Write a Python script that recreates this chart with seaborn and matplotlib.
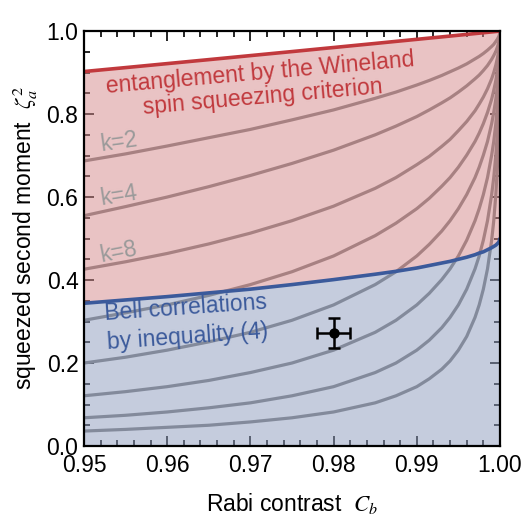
import numpy as np
import pandas as pd
import matplotlib
matplotlib.use("Agg")
import matplotlib.pyplot as plt
import seaborn as sns

# Rabi contrast grid (read positions along the x axis, denser near 1)
contrast = [0.95, 0.955, 0.96, 0.965, 0.97, 0.975, 0.98, 0.985, 0.9875, 0.99,
            0.9915, 0.993, 0.994, 0.995, 0.996, 0.997, 0.9975, 0.998, 0.9985, 0.999,
            0.99925, 0.9995, 0.9997, 0.9998, 0.9999, 1.0]

# Wineland spin squeezing criterion (upper boundary, red)
wineland = [0.9025, 0.912, 0.9216, 0.9312, 0.9409, 0.9506, 0.9604, 0.9702, 0.9752, 0.9801,
            0.9831, 0.986, 0.988, 0.990, 0.992, 0.994, 0.995, 0.996, 0.997, 0.998,
            0.9985, 0.999, 0.9994, 0.9996, 0.9998, 1.0]
# Bell correlations, inequality (4) (blue)
bell = [0.344, 0.352, 0.360, 0.369, 0.378, 0.389, 0.401, 0.414, 0.421, 0.429,
        0.435, 0.441, 0.445, 0.450, 0.455, 0.461, 0.465, 0.468, 0.473, 0.478,
        0.481, 0.484, 0.488, 0.490, 0.493, 0.500]

# k-particle entanglement depth curves (gray)
k2 = [0.687, 0.704, 0.723, 0.743, 0.763, 0.786, 0.810, 0.838, 0.853, 0.870,
      0.881, 0.893, 0.902, 0.911, 0.921, 0.933, 0.939, 0.946, 0.954, 0.963,
      0.968, 0.975, 0.981, 0.985, 0.989, 1.0]
k4 = [0.555, 0.577, 0.600, 0.625, 0.652, 0.681, 0.713, 0.750, 0.771, 0.794,
      0.810, 0.827, 0.839, 0.853, 0.868, 0.885, 0.894, 0.905, 0.917, 0.932,
      0.941, 0.951, 0.962, 0.969, 0.977, 1.0]
k8 = [0.426, 0.444, 0.464, 0.487, 0.513, 0.543, 0.578, 0.621, 0.647, 0.678,
      0.698, 0.722, 0.739, 0.760, 0.782, 0.808, 0.824, 0.841, 0.861, 0.885,
      0.900, 0.918, 0.936, 0.947, 0.963, 1.0]
k16 = [0.303, 0.321, 0.340, 0.363, 0.389, 0.420, 0.458, 0.507, 0.537, 0.572,
       0.597, 0.626, 0.647, 0.672, 0.701, 0.734, 0.754, 0.777, 0.804, 0.836,
       0.857, 0.881, 0.907, 0.923, 0.945, 1.0]
k32 = [0.200, 0.214, 0.231, 0.251, 0.274, 0.303, 0.340, 0.389, 0.420, 0.458,
       0.486, 0.518, 0.543, 0.572, 0.606, 0.647, 0.672, 0.701, 0.734, 0.777,
       0.804, 0.836, 0.871, 0.893, 0.923, 1.0]
k64 = [0.121, 0.131, 0.143, 0.158, 0.177, 0.200, 0.231, 0.274, 0.303, 0.340,
       0.368, 0.401, 0.427, 0.458, 0.496, 0.543, 0.572, 0.606, 0.647, 0.701,
       0.734, 0.777, 0.822, 0.852, 0.893, 1.0]
k128 = [0.068, 0.074, 0.082, 0.092, 0.104, 0.121, 0.143, 0.177, 0.200, 0.231,
        0.255, 0.285, 0.310, 0.340, 0.378, 0.427, 0.458, 0.496, 0.543, 0.606,
        0.647, 0.701, 0.759, 0.798, 0.852, 1.0]
k256 = [0.036, 0.040, 0.045, 0.050, 0.058, 0.068, 0.082, 0.104, 0.121, 0.143,
        0.162, 0.185, 0.205, 0.231, 0.264, 0.310, 0.340, 0.378, 0.427, 0.496,
        0.543, 0.606, 0.677, 0.727, 0.798, 1.0]

# measured point
point_c = 0.98
point_z = 0.272
err_c = 0.002
err_z = 0.037

sns.set_style("ticks")
plt.rcParams['font.family'] = ['Liberation Sans', 'DejaVu Sans']
plt.rcParams['mathtext.fontset'] = 'stix'
for key in ['text.color', 'axes.labelcolor', 'xtick.color', 'ytick.color', 'axes.edgecolor']:
    plt.rcParams[key] = 'black'

red = '#c1393d'
blue = '#3b5a9b'

fig = plt.figure(figsize=(5.23, 5.18), dpi=100)
ax = fig.add_axes([0.1606, 0.139, 0.7954, 0.801])

curves = pd.DataFrame({'C': contrast * 8,
                       'z': k2 + k4 + k8 + k16 + k32 + k64 + k128 + k256,
                       'k': sum([[k] * len(contrast) for k in [2, 4, 8, 16, 32, 64, 128, 256]], [])})
sns.lineplot(data=curves, x='C', y='z', units='k', estimator=None, color='#7a7a7a',
             lw=2.3, ax=ax, zorder=1, sort=False)

# shaded regions on top of gray curves
ax.fill_between(contrast, bell, wineland, color='#d5898b', alpha=0.5, lw=0, zorder=2)
ax.fill_between(contrast, 0, bell, color='#8d9bbd', alpha=0.5, lw=0, zorder=2)

sns.lineplot(x=contrast, y=wineland, color=red, lw=2.6, ax=ax, zorder=3)
sns.lineplot(x=contrast, y=bell, color=blue, lw=2.6, ax=ax, zorder=3)

ax.errorbar(point_c, point_z, xerr=err_c, yerr=err_z, fmt='o', color='black',
            ms=6.5, elinewidth=1.8, capsize=4, capthick=1.8, zorder=5)

fs = 16.5
ax.text(0.9712, 0.899, 'entanglement by the Wineland', color=red, fontsize=fs,
        rotation=5, ha='center', va='center', rotation_mode='anchor', zorder=6)
ax.text(0.9715, 0.842, 'spin squeezing criterion', color=red, fontsize=fs,
        rotation=5, ha='center', va='center', rotation_mode='anchor', zorder=6)
ax.text(0.9622, 0.333, 'Bell correlations', color=blue, fontsize=fs,
        rotation=4, ha='center', va='center', rotation_mode='anchor', zorder=6)
ax.text(0.9624, 0.262, 'by inequality (4)', color=blue, fontsize=fs,
        rotation=4, ha='center', va='center', rotation_mode='anchor', zorder=6)
for lab, yy, rot in [('k=2', 0.733, 8), ('k=4', 0.604, 9), ('k=8', 0.468, 11)]:
    ax.text(0.9542, yy, lab, color='#9a9a9a', fontsize=fs, rotation=rot,
            ha='center', va='center', rotation_mode='anchor', zorder=6)

ax.set_xlim(0.95, 1.0)
ax.set_ylim(0, 1.0)
ax.set_xticks([0.95, 0.96, 0.97, 0.98, 0.99, 1.00])
ax.set_xticklabels(['0.95', '0.96', '0.97', '0.98', '0.99', '1.00'])
ax.set_yticks([0.0, 0.2, 0.4, 0.6, 0.8, 1.0])
ax.set_yticklabels(['0.0', '0.2', '0.4', '0.6', '0.8', '1.0'])
ax.set_xticks(np.arange(0.95, 1.0001, 0.002), minor=True)
ax.set_yticks(np.arange(0, 1.0001, 0.05), minor=True)
ax.tick_params(which='both', direction='in', top=True, right=True, width=1.2,
               labelsize=fs, color='black')
ax.tick_params(which='major', length=7)
ax.tick_params(which='minor', length=4)
ax.tick_params(axis='x', which='major', pad=6)
ax.tick_params(axis='y', which='major', pad=4)
for sp in ax.spines.values():
    sp.set_linewidth(1.6)
    sp.set_zorder(7)

ax.set_xlabel(r'Rabi contrast  $C_b$', fontsize=fs, labelpad=10)
ax.set_ylabel(r'squeezed second moment  $\zeta_a^2$', fontsize=fs, labelpad=5)

fig.savefig('out.png', dpi=100)
